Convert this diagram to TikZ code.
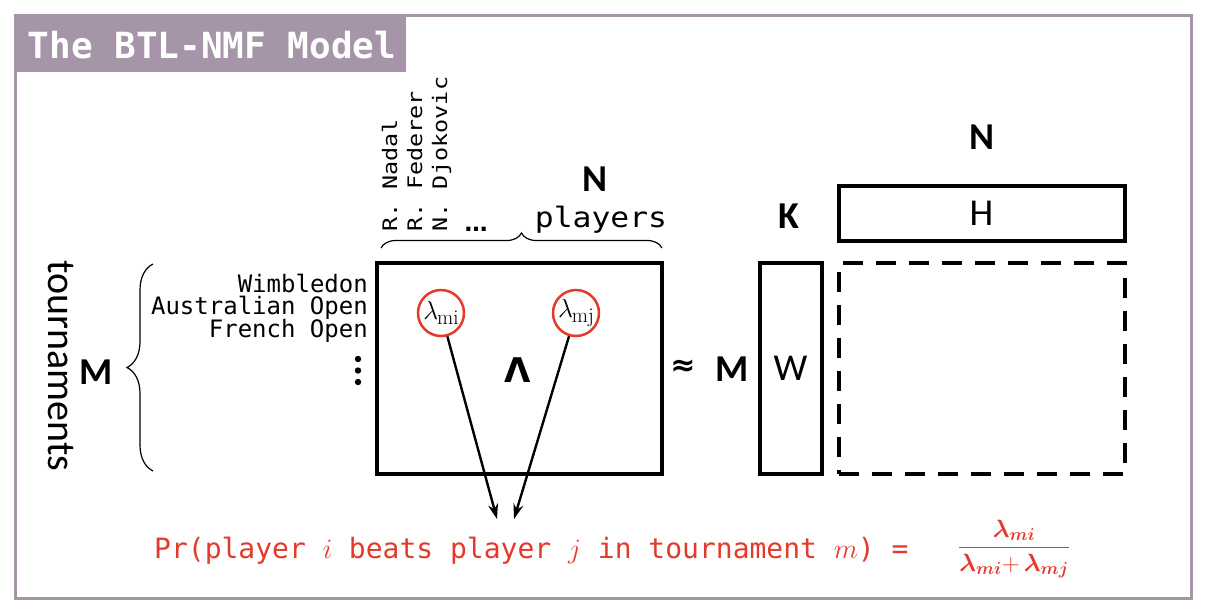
\RequirePackage{fix-cm}
\documentclass[tikz,border=0pt]{standalone}
\usepackage{amsmath}
\usepackage{bm}
\usepackage{graphicx}
\usepackage[no-math]{fontspec}
\setmainfont{Carlito}
\newfontfamily\monof{DejaVu Sans Mono}
\newfontfamily\djv{DejaVu Sans}
\newfontfamily\lmr{Latin Modern Roman}
\usetikzlibrary{decorations.pathreplacing, arrows.meta}
\definecolor{framecol}{RGB}{166,148,168}
\definecolor{redc}{RGB}{229,57,43}
\newcommand{\lamsub}[1]{$\lambda$\kern-1pt\raisebox{-5pt}{\lmr\fontsize{21}{21}\selectfont #1}}
\tikzset{
  bigb/.style={font=\fontsize{38}{40}\selectfont\bfseries, inner sep=0pt},
  tourn/.style={font=\monof\fontsize{24}{26}\selectfont, anchor=base east, inner sep=0pt},
  pname/.style={font=\monof\fontsize{20}{22}\selectfont, rotate=90, anchor=base west, inner sep=0pt},
  matbox/.style={draw, line width=4pt, inner sep=0pt, font=\fontsize{38}{40}\selectfont},
  lam/.style={circle, draw=redc, line width=2.5pt, minimum size=46pt, inner sep=0pt, font=\fontsize{26}{28}\selectfont},
  arr/.style={line width=2.4pt, -{Stealth[length=15pt,width=10pt]}},
  brc/.style={decorate, line width=1.2pt},
}
\begin{document}
\begin{tikzpicture}[x=1pt,y=-1pt]
\useasboundingbox (0,0) rectangle (1210,614);
% frame and title
\draw[framecol, line width=3pt] (15,15) rectangle (1191,598);
\fill[framecol] (15,15) rectangle (406,72);
\node[anchor=base, text=white, font=\monof\bfseries\fontsize{36}{38}\selectfont, inner sep=0pt] (title) at (212,58) {The BTL-NMF Model};

% left labels
\node[rotate=-90, anchor=base, font=\fontsize{40}{42}\selectfont, inner sep=0pt] (tour) at (48,366) {tournaments};
\node[bigb] (Mleft) at (96,372) {M};
\draw[brc, decoration={brace, amplitude=26pt}] (153,471) -- (153,264);

\node[tourn] (wim) at (368,292) {Wimbledon};
\node[tourn] (aus) at (368,314.5) {Australian Open};
\node[tourn] (fre) at (368,337) {French Open};
\fill (358,359) circle[radius=3.2pt];
\fill (358,370.5) circle[radius=3.2pt];
\fill (358,382) circle[radius=3.2pt];

% player labels
\node[pname] (nad) at (397,232) {\scalebox{1.17}[1]{R. Nadal}};
\node[pname] (fed) at (422,232) {\scalebox{1.17}[1]{R. Federer}};
\node[pname] (djo) at (447,232) {\scalebox{1.17}[1]{N. Djokovic}};
\node[font=\djv\bfseries\fontsize{23}{24}\selectfont, anchor=base, inner sep=0pt] (ell) at (476,231) {…};
\node[bigb] (Ntop) at (595,179) {N};
\node[anchor=base, font=\monof\fontsize{28}{30}\selectfont, inner sep=0pt] (players) at (601,227) {\scalebox{1.12}[1]{players}};
\draw[brc, decoration={brace, amplitude=15pt}] (381,248) -- (662,248);

% Lambda matrix
\node[matbox, minimum width=285pt, minimum height=211pt] (Lam) at (519.5,368.5) {};
\node[font=\djv\bfseries\fontsize{34}{36}\selectfont, inner sep=0pt] (Lsym) at (518,370) {Λ};
\node[lam] (lmi) at (441,313) {\lamsub{mi}};
\node[lam] (lmj) at (576,313) {\lamsub{mj}};

% approx and factorization
\node[font=\djv\bfseries\fontsize{30}{32}\selectfont, inner sep=0pt] (approx) at (683,368) {≈};
\node[bigb] (Mright) at (732,369) {M};
\node[matbox, minimum width=62pt, minimum height=211pt] (W) at (790.5,368.5) {W};
\node[bigb] (K) at (789,216) {K};
\node[bigb] (Nright) at (982,137) {N};
\node[matbox, minimum width=286pt, minimum height=55pt] (H) at (981.5,213.5) {H};
\node[draw, line width=4pt, dash pattern=on 20pt off 13pt, minimum width=286pt, minimum height=211pt, inner sep=0pt] (prod) at (981.5,368.5) {};

% probability formula
\node[anchor=base west, text=redc, font=\monof\fontsize{28}{30}\selectfont, inner sep=0pt] (prob) at (154,558) {Pr(player $i$ beats player $j$ in tournament $m$) =};
\node[anchor=base, text=redc, font=\fontsize{25}{27}\selectfont, inner sep=0pt] (frac) at (1014,554) {$\dfrac{\bm{\lambda_{mi}}}{\bm{\lambda_{mi}}{+}\,\bm{\lambda_{mj}}}$};

% arrows
\coordinate (tipi) at (497,519);
\coordinate (tipj) at (514,519);
\draw[arr] (lmi) -- (tipi);
\draw[arr] (lmj) -- (tipj);
\end{tikzpicture}
\end{document}
